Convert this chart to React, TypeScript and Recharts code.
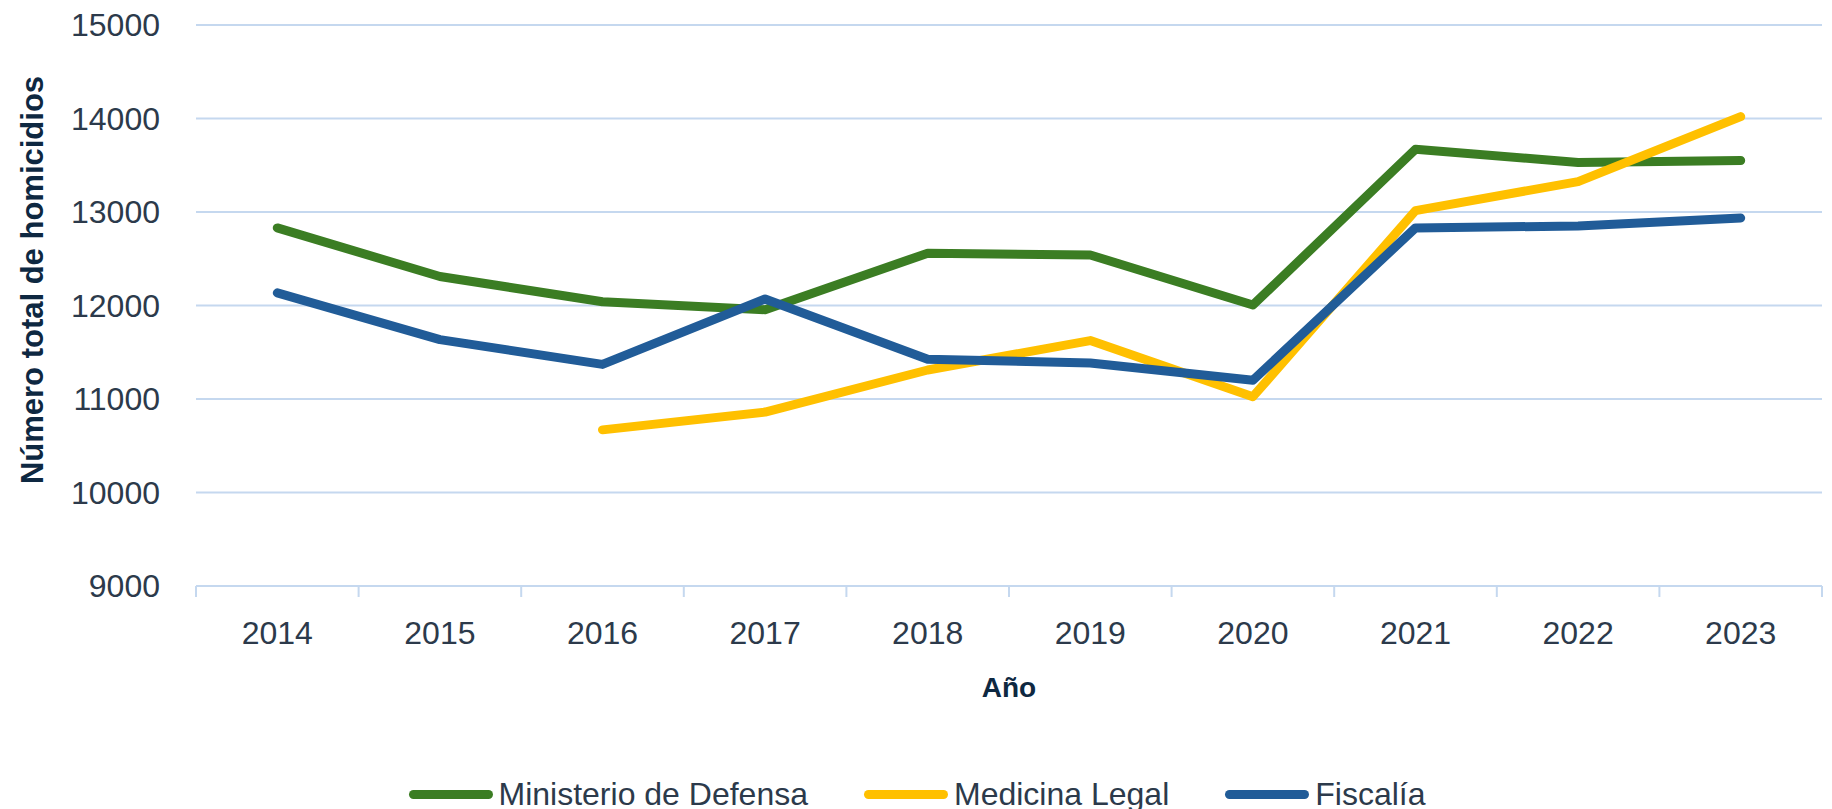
import { LineChart, Line, XAxis, YAxis, CartesianGrid, Legend } from 'recharts';

const years = ['2014', '2015', '2016', '2017', '2018', '2019', '2020', '2021', '2022', '2023'];
const defensa = [12830, 12310, 12040, 11955, 12560, 12540, 12005, 13670, 13530, 13550];
const medicina = [null, null, 10670, 10860, 11310, 11625, 11025, 13015, 13325, 14020];
const fiscalia = [12135, 11635, 11370, 12070, 11425, 11385, 11200, 12830, 12850, 12935];
const yTicks = [9000, 10000, 11000, 12000, 13000, 14000, 15000];

const seriesInfo = [
  { key: 'defensa', name: 'Ministerio de Defensa', color: '#3B7D23' },
  { key: 'medicina', name: 'Medicina Legal', color: '#FFC000' },
  { key: 'fiscalia', name: 'Fiscalía', color: '#215C98' },
];

// years sit in the middle of each band, tick marks on the band edges
const xTicks = Array.from({ length: years.length * 2 + 1 }, (_, i) => i / 2);

const data = years.map((year, i) => ({
  x: i + 0.5,
  year,
  defensa: defensa[i],
  medicina: medicina[i],
  fiscalia: fiscalia[i],
}));

const FONT = '"Liberation Sans", Arial, sans-serif';
const TICK_COLOR = '#2C3A4B';
const TITLE_COLOR = '#0E2841';
const GRID_COLOR = '#C5D8EF';

const YearTick = (props: any) => {
  const { x, y, payload } = props;
  const v = payload.value as number;
  if (Number.isInteger(v)) {
    return <line x1={x} y1={y} x2={x} y2={y + 11} stroke={GRID_COLOR} strokeWidth={2} />;
  }
  const label = years[Math.floor(v)];
  return (
    <text x={x} y={y + 58} textAnchor="middle" fontSize={32} fill={TICK_COLOR} fontFamily={FONT}>
      {label}
    </text>
  );
};

const LegendContent = () => (
  <div
    style={{
      display: 'flex',
      justifyContent: 'center',
      alignItems: 'center',
      height: 30,
      gap: 56,
      fontFamily: FONT,
      fontSize: 32,
      color: TICK_COLOR,
      paddingLeft: 12,
    }}
  >
    {seriesInfo.map((s) => (
      <div key={s.key} style={{ display: 'flex', alignItems: 'center', gap: 6 }}>
        <span style={{ display: 'inline-block', width: 84, height: 9, borderRadius: 5, background: s.color }} />
        <span style={{ lineHeight: '30px' }}>{s.name}</span>
      </div>
    ))}
  </div>
);

const App = () => {
  return (
    <div style={{ position: 'absolute', left: 0, top: 0, background: '#fff' }}>
      <LineChart width={1832} height={809} data={data} margin={{ top: 25, right: 10, bottom: 0, left: 0 }}>
        <CartesianGrid vertical={false} stroke={GRID_COLOR} strokeWidth={2} />
        <XAxis
          dataKey="x"
          type="number"
          domain={[0, 10]}
          ticks={xTicks}
          interval={0}
          height={193}
          tickLine={false}
          tickSize={0}
          tickMargin={0}
          axisLine={{ stroke: GRID_COLOR, strokeWidth: 2 }}
          tick={<YearTick />}
          label={{
            content: (p: any) => {
              const vb = p.viewBox;
              return (
                <text
                  x={vb.x + vb.width / 2}
                  y={vb.y + 111}
                  textAnchor="middle"
                  fontSize={28}
                  fontWeight="bold"
                  fill={TITLE_COLOR}
                  fontFamily={FONT}
                >
                  Año
                </text>
              );
            },
          }}
        />
        <YAxis
          domain={[9000, 15000]}
          ticks={yTicks}
          width={196}
          axisLine={false}
          tickLine={false}
          tickSize={0}
          tickMargin={36}
          tick={{ fontSize: 32, fill: TICK_COLOR, fontFamily: FONT }}
          label={{
            content: () => (
              <text
                x={43}
                y={280}
                transform="rotate(-90, 43, 280)"
                textAnchor="middle"
                fontSize={31}
                fontWeight="bold"
                fill={TITLE_COLOR}
                fontFamily={FONT}
              >
                Número total de homicidios
              </text>
            ),
          }}
        />
        {seriesInfo.map((s) => (
          <Line
            key={s.key}
            type="linear"
            dataKey={s.key}
            name={s.name}
            stroke={s.color}
            strokeWidth={9}
            strokeLinecap="round"
            strokeLinejoin="round"
            dot={false}
            activeDot={false}
            isAnimationActive={false}
          />
        ))}
        <Legend verticalAlign="bottom" content={<LegendContent />} />
      </LineChart>
    </div>
  );
};

export default App;
